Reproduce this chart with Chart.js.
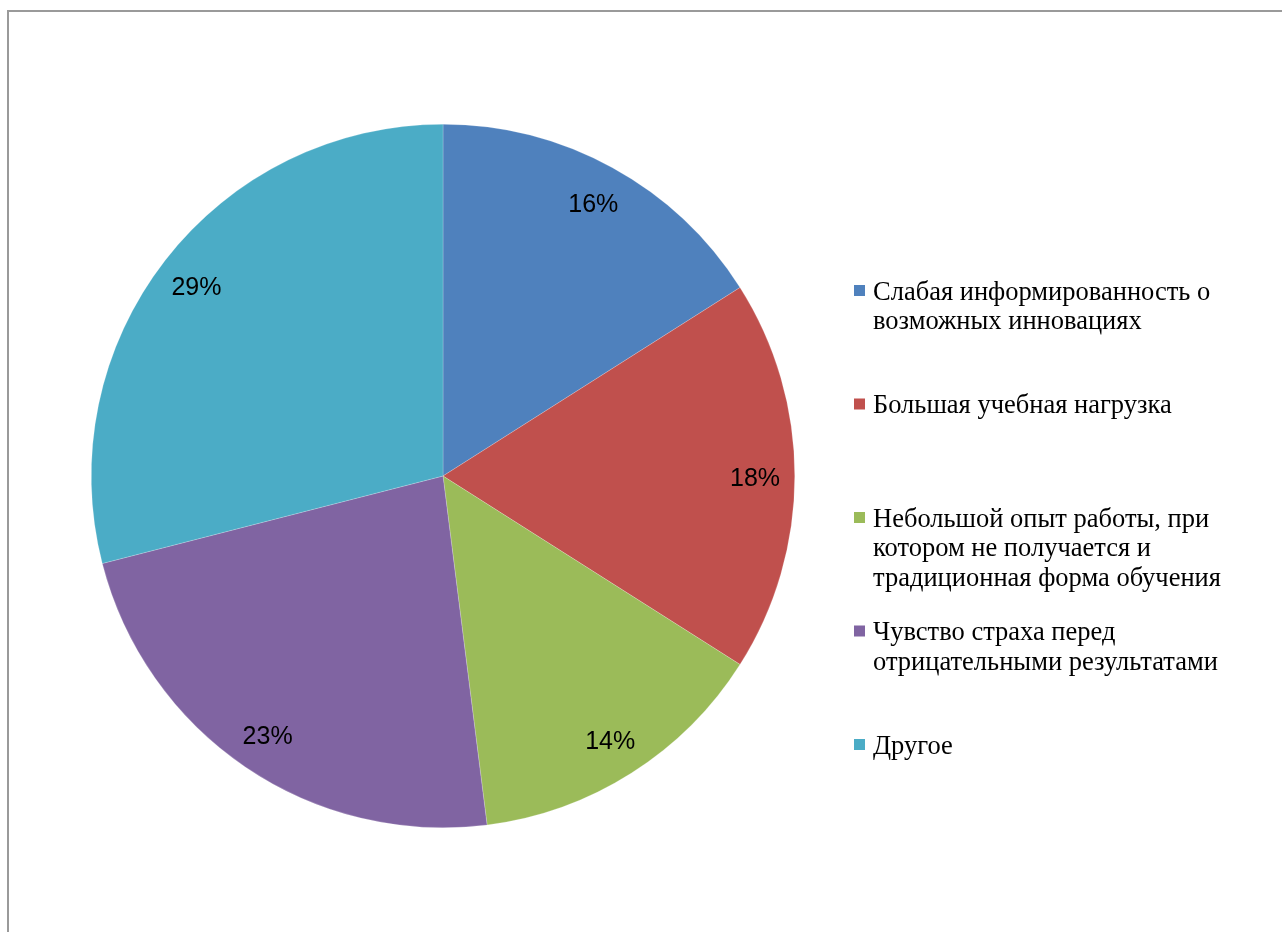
<!DOCTYPE html>
<html>
<head>
<meta charset="utf-8">
<script src="https://cdn.jsdelivr.net/npm/chart.js@4/dist/chart.umd.min.js"></script>
<style>
  html, body { margin: 0; padding: 0; background: #fff; }
  canvas { display: block; }
</style>
</head>
<body>
<canvas id="c" width="1282" height="932"></canvas>
<script>
const categories = [
  "Слабая информированность о возможных инновациях",
  "Большая учебная нагрузка",
  "Небольшой опыт работы, при котором не получается и традиционная форма обучения",
  "Чувство страха перед отрицательными результатами",
  "Другое"
];
const shares = [16, 18, 14, 23, 29];
const sliceColors = ["#4F81BD", "#C0504D", "#9BBB59", "#8064A2", "#4BACC6"];

const frame = {
  id: "frame",
  beforeDraw(chart) {
    const ctx = chart.ctx;
    ctx.save();
    ctx.fillStyle = "#fff";
    ctx.fillRect(0, 0, chart.width, chart.height);
    ctx.strokeStyle = "#9a9a9a";
    ctx.lineWidth = 2;
    ctx.strokeRect(8, 11, 3000, 3000);
    ctx.restore();
  }
};

const pctLabels = {
  id: "pctLabels",
  afterDatasetsDraw(chart) {
    const ctx = chart.ctx;
    const meta = chart.getDatasetMeta(0);
    const data = chart.data.datasets[0].data;
    const total = data.reduce((a, b) => a + b, 0);
    ctx.save();
    ctx.font = "25px 'Liberation Sans', Arial, sans-serif";
    ctx.fillStyle = "#000";
    ctx.textAlign = "center";
    ctx.textBaseline = "middle";
    meta.data.forEach((arc, i) => {
      const p = arc.getProps(["x", "y", "startAngle", "endAngle", "outerRadius"], true);
      const mid = (p.startAngle + p.endAngle) / 2;
      const r = p.outerRadius * 0.887;
      ctx.fillText(Math.round(data[i] / total * 100) + "%", p.x + Math.cos(mid) * r, p.y + Math.sin(mid) * r + 3);
    });
    ctx.restore();
  }
};

function wrap(ctx, text, maxW) {
  const words = text.split(" ");
  const lines = [];
  let cur = "";
  words.forEach(w => {
    const t = cur ? cur + " " + w : w;
    if (ctx.measureText(t).width > maxW && cur) { lines.push(cur); cur = w; }
    else cur = t;
  });
  if (cur) lines.push(cur);
  return lines;
}

const sideLegend = {
  id: "sideLegend",
  afterDraw(chart) {
    const ctx = chart.ctx;
    const labels = chart.data.labels;
    const colors = chart.data.datasets[0].backgroundColor;
    ctx.save();
    ctx.font = "26.5px 'Liberation Serif', 'Times New Roman', serif";
    ctx.textBaseline = "middle";
    ctx.textAlign = "left";
    const x0 = 854, y0 = 293, step = 113.5, lh = 29.5;
    labels.forEach((lab, i) => {
      const y = y0 + i * step;
      ctx.fillStyle = colors[i];
      ctx.fillRect(x0, y - 8, 11, 11);
      ctx.fillStyle = "#000";
      wrap(ctx, lab, 385).forEach((line, j) => {
        ctx.fillText(line, 873, y + j * lh);
      });
    });
    ctx.restore();
  }
};

new Chart(document.getElementById("c"), {
  type: "pie",
  data: {
    labels: categories,
    datasets: [{
      data: shares,
      backgroundColor: sliceColors,
      borderColor: "rgba(255,255,255,0.4)",
      borderWidth: 0.5
    }]
  },
  options: {
    responsive: false,
    animation: false,
    layout: { padding: { left: 91, top: 124, right: 487, bottom: 104 } },
    plugins: {
      legend: { display: false },
      tooltip: { enabled: false }
    }
  },
  plugins: [frame, pctLabels, sideLegend]
});
</script>
</body>
</html>
